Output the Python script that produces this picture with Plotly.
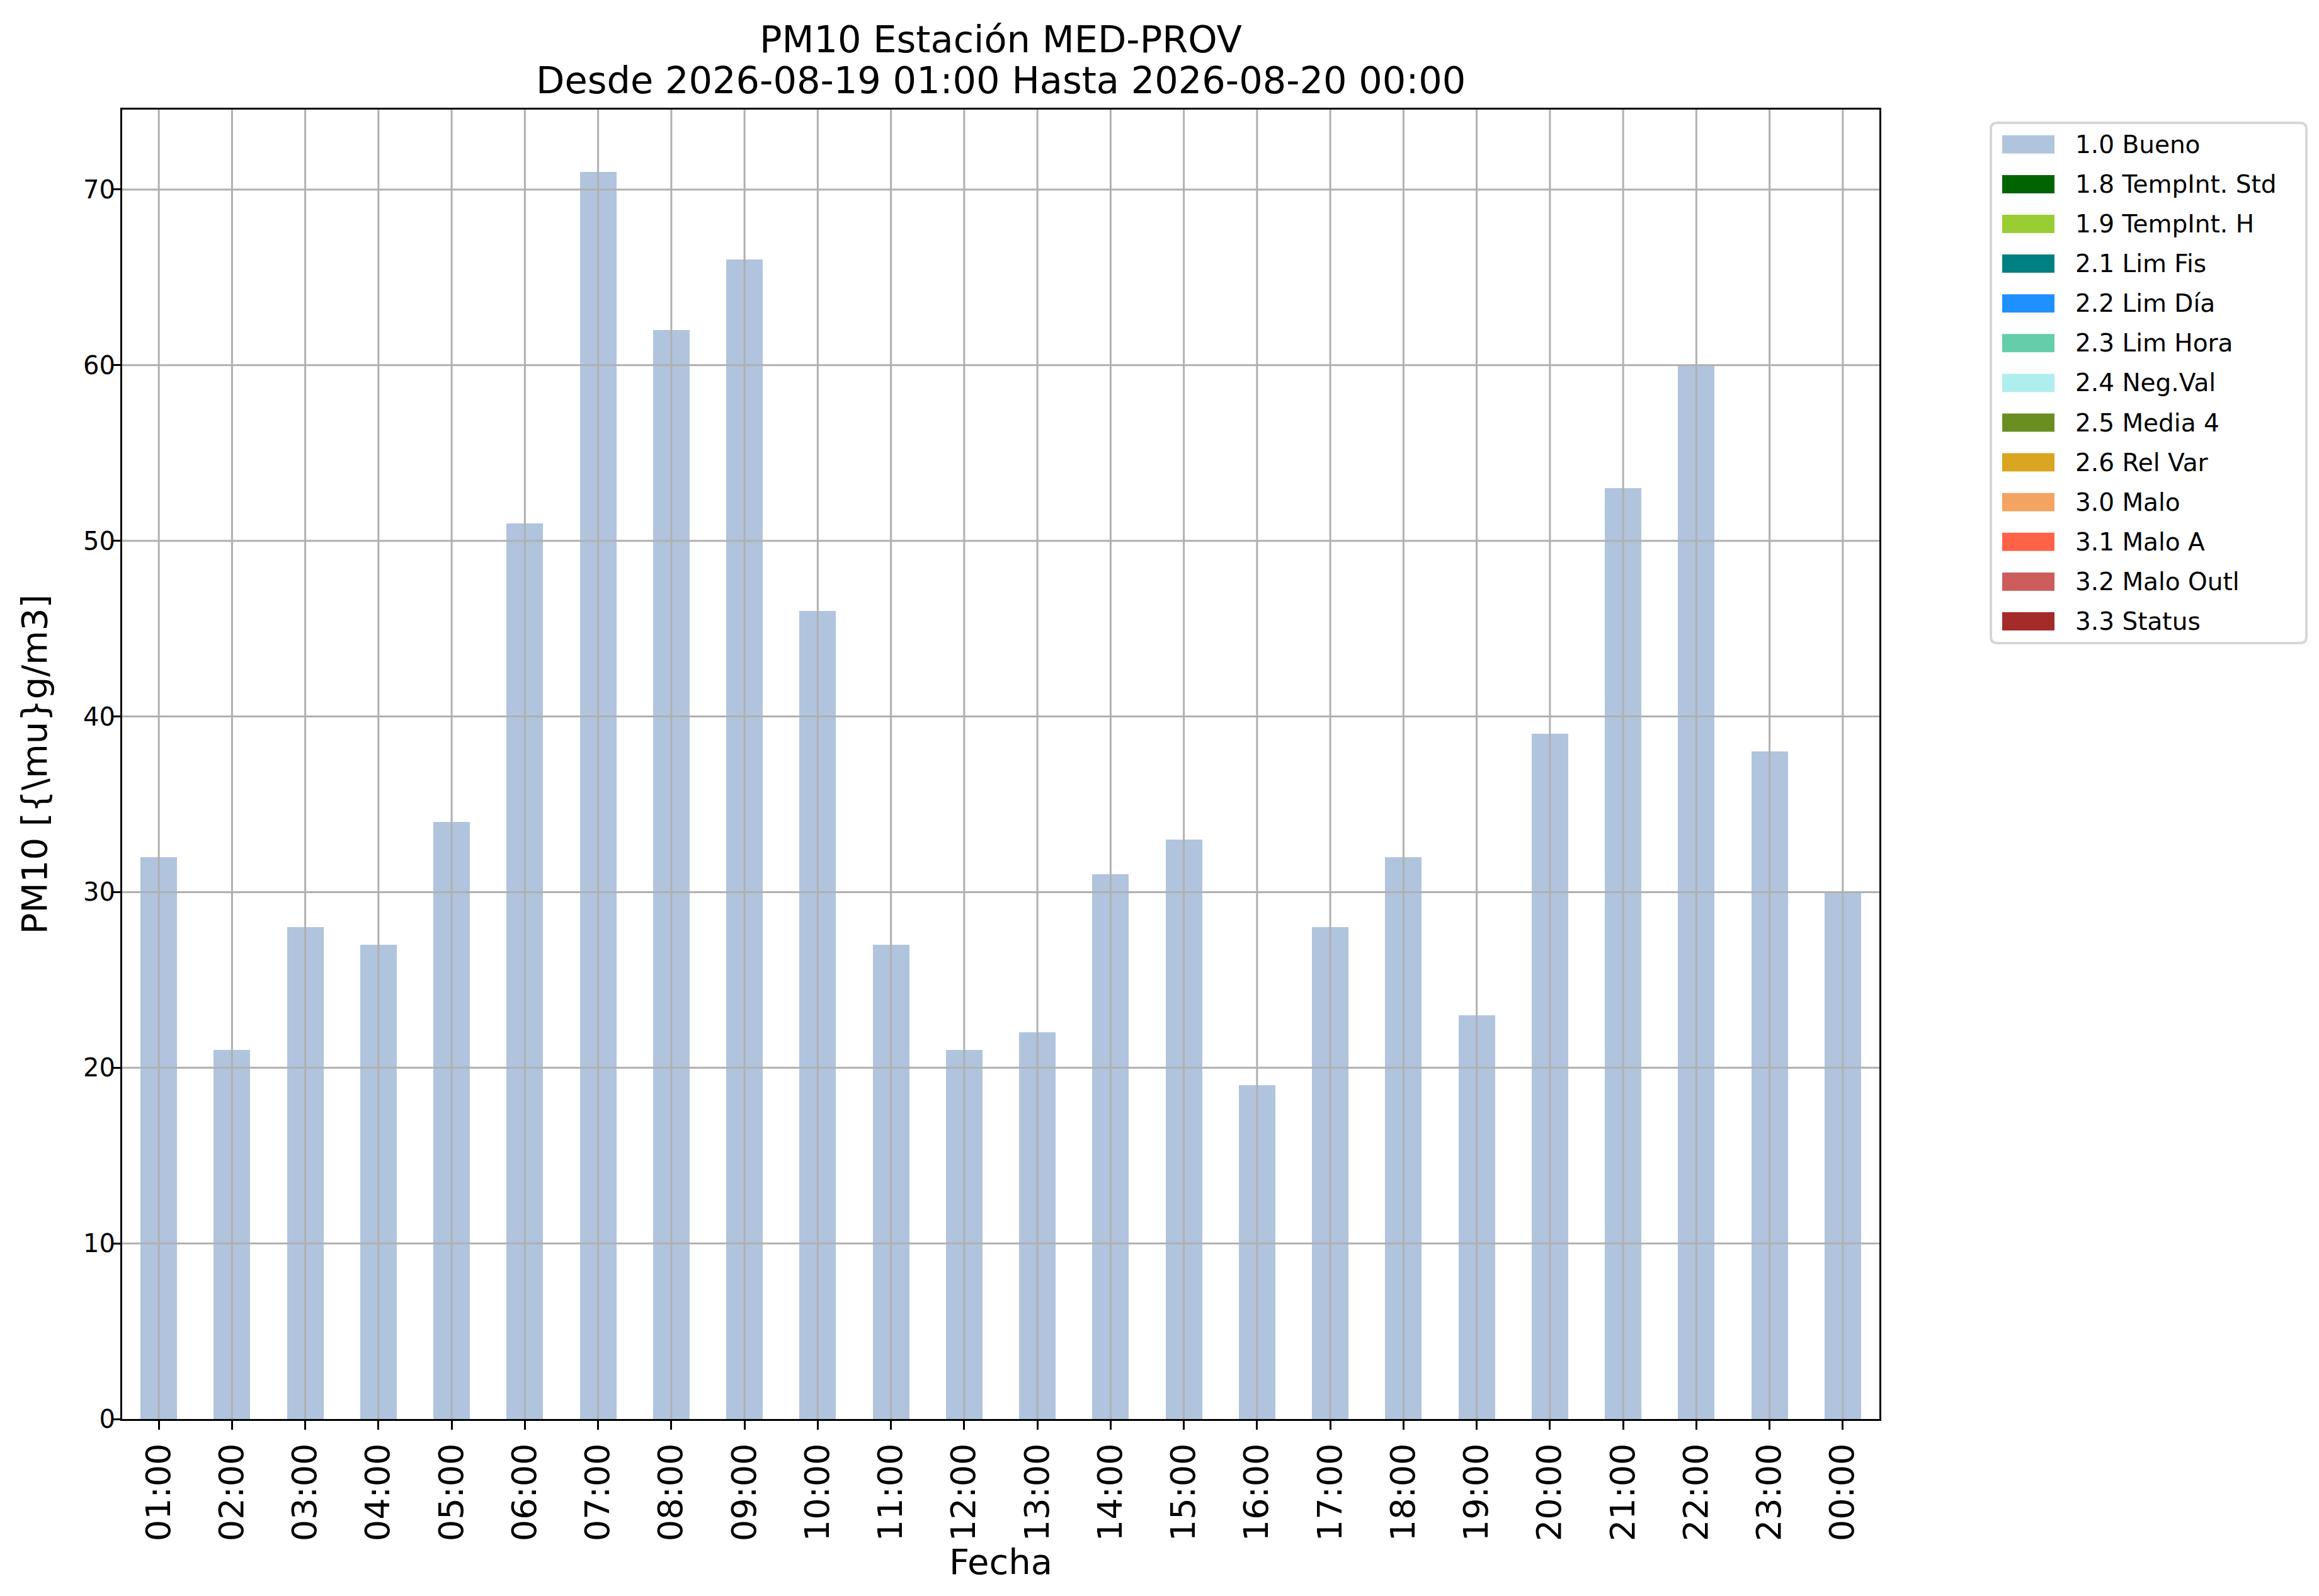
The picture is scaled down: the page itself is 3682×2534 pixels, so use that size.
import plotly.graph_objects as go

# hourly PM10 values, station MED-PROV
hours = ["01:00", "02:00", "03:00", "04:00", "05:00", "06:00", "07:00", "08:00",
         "09:00", "10:00", "11:00", "12:00", "13:00", "14:00", "15:00", "16:00",
         "17:00", "18:00", "19:00", "20:00", "21:00", "22:00", "23:00", "00:00"]
pm10 = [32, 21, 28, 27, 34, 51, 71, 62, 66, 46, 27, 21,
        22, 31, 33, 19, 28, 32, 23, 39, 53, 60, 38, 30]
hour_flags = [1.0, 1.0, 1.0, 1.0, 1.0, 1.0, 1.0, 1.0, 1.0, 1.0, 1.0, 1.0,
              1.0, 1.0, 1.0, 1.0, 1.0, 1.0, 1.0, 1.0, 1.0, 1.0, 1.0, 1.0]

# validation flags (legend)
flag_codes = [1.0, 1.8, 1.9, 2.1, 2.2, 2.3, 2.4, 2.5, 2.6, 3.0, 3.1, 3.2, 3.3]
flag_labels = ["1.0 Bueno", "1.8 TempInt. Std", "1.9 TempInt. H", "2.1 Lim Fis",
               "2.2 Lim Día", "2.3 Lim Hora", "2.4 Neg.Val", "2.5 Media 4",
               "2.6 Rel Var", "3.0 Malo", "3.1 Malo A", "3.2 Malo Outl", "3.3 Status"]
flag_colors = ["#b0c4de", "#006400", "#9acd32", "#008080", "#1e90ff", "#66cdaa",
               "#afeeee", "#6b8e23", "#daa520", "#f4a460", "#ff6347", "#cd5c5c", "#a52a2a"]

y_ticks = [0, 10, 20, 30, 40, 50, 60, 70]

title_1 = "PM10 Estación MED-PROV"
title_2 = "Desde 2026-08-19 01:00 Hasta 2026-08-20 00:00"

FONT = "DejaVu Sans"
GRID = "#b0b0b0"

# plot area in pixels
W, H = 3682, 2534
L_PX, R_PX, T_PX, B_PX = 186, 2976, 166, 2245


def px_x(p):
    return (p - L_PX) / (R_PX - L_PX)


def px_y(p):
    return (B_PX - p) / (B_PX - T_PX)


fig = go.Figure()

for code, label, color in zip(flag_codes, flag_labels, flag_colors):
    yv = [v if f == code else None for v, f in zip(pm10, hour_flags)]
    fig.add_trace(go.Bar(x=hours, y=yv, width=0.5, marker=dict(color=color, line=dict(width=0)),
                         name=label, showlegend=False))

# grid drawn over the bars, as in matplotlib
for i in range(len(hours)):
    fig.add_shape(type="line", xref="x", yref="paper", x0=i, x1=i, y0=0, y1=1,
                  line=dict(color=GRID, width=3), layer="above")
for t in y_ticks[1:]:
    fig.add_shape(type="line", xref="paper", yref="y", x0=0, x1=1, y0=t, y1=t,
                  line=dict(color=GRID, width=3), layer="above")

# legend box with wide colour patches (matplotlib style)
lx0, lx1, ly0, ly1 = px_x(3153), px_x(3654), px_y(187), px_y(1013)
rx, ry = 10 / (R_PX - L_PX), 10 / (B_PX - T_PX)
frame = (f"M{lx0 + rx},{ly0} L{lx1 - rx},{ly0} Q{lx1},{ly0} {lx1},{ly0 - ry} "
         f"L{lx1},{ly1 + ry} Q{lx1},{ly1} {lx1 - rx},{ly1} L{lx0 + rx},{ly1} "
         f"Q{lx0},{ly1} {lx0},{ly1 + ry} L{lx0},{ly0 - ry} Q{lx0},{ly0} {lx0 + rx},{ly0} Z")
fig.add_shape(type="path", xref="paper", yref="paper", path=frame,
              fillcolor="white", line=dict(color="#d6d6d6", width=4), layer="above")
for k, (label, color) in enumerate(zip(flag_labels, flag_colors)):
    cy = 221.3 + k * 63.1
    fig.add_shape(type="rect", xref="paper", yref="paper",
                  x0=px_x(3171), x1=px_x(3254), y0=px_y(cy + 14.5), y1=px_y(cy - 14.5),
                  fillcolor=color, line=dict(width=0), layer="above")
    fig.add_annotation(text=label, xref="paper", yref="paper", x=px_x(3285), y=px_y(cy),
                       xanchor="left", yanchor="middle", showarrow=False,
                       font=dict(size=39, family=FONT, color="black"))

# second title line
fig.add_annotation(text=title_2, xref="paper", yref="paper", x=0.5, y=px_y(119.6),
                   xanchor="center", yanchor="middle", showarrow=False,
                   font=dict(size=59, family=FONT, color="black"))

fig.update_layout(
    width=W, height=H,
    margin=dict(l=L_PX, r=W - R_PX, t=T_PX, b=H - B_PX),
    paper_bgcolor="white", plot_bgcolor="white",
    font=dict(family=FONT, color="black"),
    barmode="stack",
    showlegend=False,
    title=dict(text=title_1,
               font=dict(size=59, family=FONT, color="black"),
               x=0.5, xref="paper", xanchor="center",
               y=1 - 54.35 / H, yref="container", yanchor="middle"),
    xaxis=dict(type="category", range=[-0.5, 23.5], showgrid=False,
               ticks="outside", ticklen=14, tickwidth=3, tickcolor="black",
               showline=True, linecolor="black", linewidth=3, mirror=True,
               tickangle=-90, tickfont=dict(size=54, family=FONT),
               title=dict(text="Fecha", font=dict(size=56, family=FONT), standoff=12),
               automargin=False, zeroline=False),
    yaxis=dict(range=[0, 74.55], tickvals=y_ticks, showgrid=False,
               ticks="outside", ticklen=14, tickwidth=3, tickcolor="black",
               showline=True, linecolor="black", linewidth=3, mirror=True,
               tickfont=dict(size=40, family=FONT), ticklabelstandoff=-14,
               title=dict(text="PM10 [{\\mu}g/m3]", font=dict(size=56, family=FONT), standoff=40),
               automargin=False, zeroline=False),
)

fig.write_html("out.html")
